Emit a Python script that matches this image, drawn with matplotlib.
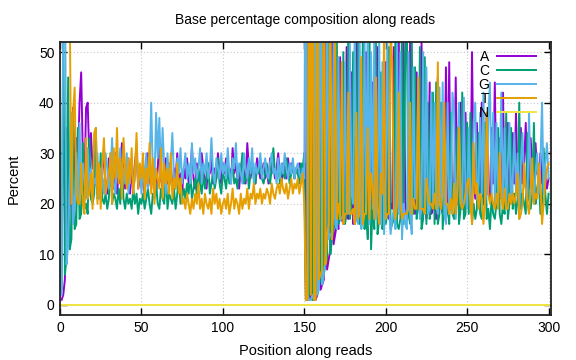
import numpy as np
import matplotlib
matplotlib.use("Agg")
import matplotlib.pyplot as plt

plt.rcParams['font.family'] = ['Liberation Sans', 'DejaVu Sans']

# base percentages per read position (1..300)
pct_a = [
    1, 2, 5, 35, 12, 20, 30, 39, 25, 33, 28, 40, 46, 30, 24, 39, 40, 29, 34, 27, 30, 25, 22, 28, 23,
    26, 31, 24, 22, 29, 25, 27, 23, 30, 22, 26, 24, 32, 27, 23, 25, 29, 22, 26, 24, 28, 31, 23, 25, 27,
    24, 22, 26, 30, 25, 23, 28, 24, 22, 27, 33, 25, 23, 26, 29, 24, 28, 25, 23, 27, 25, 30, 24, 26, 22,
    27, 25, 29, 24, 26, 31, 25, 23, 28, 26, 24, 30, 27, 25, 23, 28, 26, 29, 24, 27, 25, 30, 26, 24, 28,
    26, 29, 25, 27, 24, 31, 26, 28, 25, 23, 27, 29, 26, 24, 32, 27, 25, 28, 26, 24, 29, 27, 25, 26, 28,
    25, 27, 24, 29, 26, 28, 25, 27, 30, 26, 24, 28, 27, 25, 29, 26, 28, 27, 25, 27, 26, 28, 27, 26, 28,
    1, 96, 1, 2, 1, 97, 1, 2, 88, 3, 4, 5, 75, 7, 9, 11, 60, 12, 14, 16, 15, 49, 17, 16, 18,
    51, 17, 19, 46, 16, 18, 54, 17, 18, 19, 17, 20, 50, 18, 17, 19, 44, 18, 20, 51, 19, 18, 21, 17, 48,
    18, 17, 20, 19, 51, 18, 17, 54, 19, 18, 52, 21, 17, 18, 53, 20, 19, 18, 46, 22, 18, 52, 19, 20, 17,
    20, 44, 18, 19, 22, 17, 45, 19, 20, 18, 21, 47, 20, 48, 19, 22, 21, 45, 20, 23, 40, 19, 22, 38, 21,
    22, 20, 50, 24, 21, 36, 23, 22, 40, 20, 24, 38, 22, 21, 35, 24, 44, 22, 25, 33, 21, 42, 24, 23, 36,
    22, 25, 34, 24, 38, 23, 26, 35, 24, 28, 36, 25, 23, 33, 27, 24, 32, 26, 25, 30, 24, 27, 26, 23, 25,
]
pct_c = [
    3, 55, 6, 9, 45, 11, 13, 37, 15, 16, 35, 17, 18, 32, 19, 20, 18, 33, 21, 20, 22, 35, 21, 22, 30,
    21, 20, 22, 19, 21, 30, 20, 22, 21, 19, 23, 20, 28, 21, 19, 22, 20, 21, 19, 23, 20, 22, 18, 21, 20,
    22, 19, 21, 23, 20, 18, 22, 21, 24, 20, 19, 23, 21, 20, 26, 19, 22, 21, 20, 23, 19, 22, 25, 20, 21,
    23, 21, 24, 22, 26, 21, 23, 25, 22, 27, 24, 22, 26, 23, 25, 28, 22, 24, 26, 23, 25, 29, 24, 22, 26,
    25, 23, 27, 24, 26, 28, 24, 25, 23, 27, 26, 30, 24, 25, 27, 23, 26, 28, 25, 24, 27, 26, 29, 25, 24,
    26, 28, 25, 24, 27, 31, 26, 25, 28, 24, 27, 26, 25, 29, 27, 24, 26, 28, 25, 27, 26, 24, 28, 27, 30,
    1, 1, 2, 95, 1, 1, 2, 3, 4, 5, 85, 6, 8, 9, 62, 10, 13, 15, 17, 52, 16, 17, 18, 50, 16,
    18, 54, 17, 20, 50, 16, 18, 56, 16, 17, 55, 15, 18, 13, 56, 11, 20, 15, 52, 14, 17, 46, 15, 19, 16,
    18, 51, 15, 16, 17, 56, 16, 15, 17, 58, 16, 50, 55, 18, 16, 53, 18, 47, 17, 20, 51, 15, 17, 49, 16,
    40, 17, 20, 42, 16, 44, 16, 18, 40, 15, 21, 17, 20, 16, 38, 18, 17, 20, 35, 16, 19, 42, 17, 18, 36,
    18, 38, 16, 20, 17, 19, 34, 18, 17, 22, 36, 17, 19, 15, 21, 18, 17, 20, 35, 18, 16, 20, 18, 38, 17,
    20, 35, 19, 22, 18, 21, 40, 19, 22, 20, 18, 34, 21, 19, 22, 36, 20, 23, 25, 18, 20, 31, 22, 18, 22,
]
pct_g = [
    2, 60, 70, 8, 12, 25, 38, 16, 19, 30, 21, 36, 22, 28, 24, 21, 31, 23, 27, 22, 25, 24, 30, 21, 27,
    25, 22, 30, 27, 23, 26, 33, 24, 22, 28, 25, 31, 23, 27, 24, 30, 22, 26, 29, 23, 25, 32, 24, 27, 22,
    28, 25, 30, 23, 27, 40, 26, 24, 38, 29, 37, 25, 35, 27, 22, 30, 24, 28, 34, 25, 23, 29, 26, 31, 24,
    27, 30, 25, 28, 24, 32, 26, 29, 25, 27, 31, 24, 28, 26, 30, 25, 27, 33, 26, 24, 29, 27, 25, 30, 26,
    28, 25, 31, 26, 24, 29, 27, 32, 25, 28, 26, 24, 30, 27, 25, 29, 26, 31, 24, 28, 26, 27, 30, 25, 27,
    29, 26, 25, 28, 30, 26, 27, 24, 29, 25, 28, 26, 30, 27, 25, 28, 26, 29, 25, 27, 28, 26, 25, 27, 25,
    97, 2, 1, 1, 2, 1, 96, 2, 3, 86, 4, 6, 9, 70, 13, 14, 14, 54, 16, 15, 49, 17, 17, 18, 48,
    19, 18, 52, 22, 20, 56, 17, 16, 54, 15, 18, 53, 20, 58, 16, 50, 19, 55, 17, 22, 53, 16, 48, 14, 25,
    52, 20, 14, 17, 19, 15, 52, 18, 50, 13, 20, 16, 15, 50, 18, 14, 47, 21, 24, 45, 17, 19, 50, 18, 47,
    18, 19, 42, 20, 40, 20, 18, 43, 21, 44, 18, 16, 40, 18, 22, 42, 38, 17, 23, 40, 21, 20, 41, 22, 19,
    35, 22, 18, 36, 40, 21, 24, 38, 22, 42, 20, 23, 37, 44, 22, 38, 20, 36, 21, 26, 42, 19, 35, 20, 28,
    36, 20, 25, 34, 22, 30, 17, 28, 34, 24, 23, 21, 38, 25, 22, 20, 26, 30, 22, 28, 40, 22, 28, 32, 25,
]
pct_t = [
    94, 80, 60, 55, 70, 58, 20, 38, 43, 22, 20, 20, 28, 20, 18, 33, 21, 22, 26, 19, 34, 35, 20, 28, 19,
    28, 33, 22, 24, 26, 30, 20, 31, 25, 35, 24, 29, 21, 33, 27, 23, 29, 24, 31, 22, 26, 34, 23, 28, 25,
    30, 21, 27, 24, 32, 22, 29, 20, 27, 25, 23, 31, 21, 28, 24, 27, 22, 30, 21, 25, 23, 28, 22, 25, 20,
    21, 19, 22, 20, 18, 21, 19, 22, 20, 24, 19, 21, 18, 22, 20, 19, 21, 18, 23, 20, 22, 19, 21, 18, 20,
    21, 19, 22, 18, 20, 23, 19, 21, 20, 18, 22, 19, 21, 20, 23, 19, 22, 21, 24, 20, 22, 21, 23, 20, 22,
    21, 23, 22, 20, 24, 22, 21, 23, 24, 22, 25, 23, 22, 24, 21, 23, 25, 22, 24, 23, 25, 22, 24, 26, 20,
    1, 1, 96, 2, 96, 1, 1, 93, 5, 6, 7, 84, 8, 14, 16, 65, 13, 19, 53, 17, 20, 17, 48, 16, 18,
    18, 42, 18, 18, 19, 16, 38, 17, 18, 49, 16, 18, 18, 35, 17, 26, 23, 17, 45, 19, 16, 26, 22, 55, 17,
    18, 18, 55, 48, 19, 17, 20, 42, 20, 17, 18, 18, 18, 19, 40, 18, 21, 19, 19, 45, 19, 19, 19, 18, 25,
    22, 20, 20, 19, 22, 19, 48, 20, 19, 23, 40, 20, 20, 18, 21, 18, 24, 18, 22, 35, 20, 19, 20, 22, 24,
    25, 20, 16, 32, 22, 24, 19, 22, 21, 16, 20, 38, 22, 20, 22, 20, 19, 22, 19, 30, 21, 19, 23, 19, 19,
    22, 20, 22, 20, 22, 26, 17, 18, 20, 28, 23, 20, 18, 23, 29, 20, 22, 21, 28, 24, 16, 20, 24, 27, 28,
]
pct_n = [0] * 300
positions = list(range(1, 301))

series = [("A", pct_a, "#9400d3"), ("C", pct_c, "#009e73"), ("G", pct_g, "#56b4e9"),
          ("T", pct_t, "#e69f00"), ("N", pct_n, "#f0e442")]

fig = plt.figure(figsize=(5.76, 3.6), dpi=100)
ax = fig.add_axes([60 / 576, 45 / 360, 491 / 576, 273 / 360])

for name, vals, color in series:
    assert len(vals) == 300, name
    ax.plot(positions, vals, color=color, lw=1.4, label=name)

ax.set_xlim(0, 301.5)
ax.set_ylim(-2, 52)
ax.set_xticks(range(0, 301, 50))
ax.set_yticks(range(0, 51, 10))
ax.grid(True, color="#c8c8c8", linestyle=(0, (1, 2)), linewidth=0.8)
ax.tick_params(direction="in", top=True, right=True, length=5, width=1, labelsize=10, pad=4)
for sp in ax.spines.values():
    sp.set_linewidth(1.3)
    sp.set_color("#222222")

ax.set_title("Base percentage composition along reads", fontsize=10, pad=13)
ax.set_xlabel("Position along reads", fontsize=10.5, labelpad=7)
ax.set_ylabel("Percent", fontsize=10.5, labelpad=13)

leg = ax.legend(loc="upper right", bbox_to_anchor=(0.985, 1.0), markerfirst=False, frameon=False,
                fontsize=10, handlelength=2.8, handletextpad=0.6, labelspacing=0.0,
                borderaxespad=0.15)

fig.savefig("out.png", dpi=100)
